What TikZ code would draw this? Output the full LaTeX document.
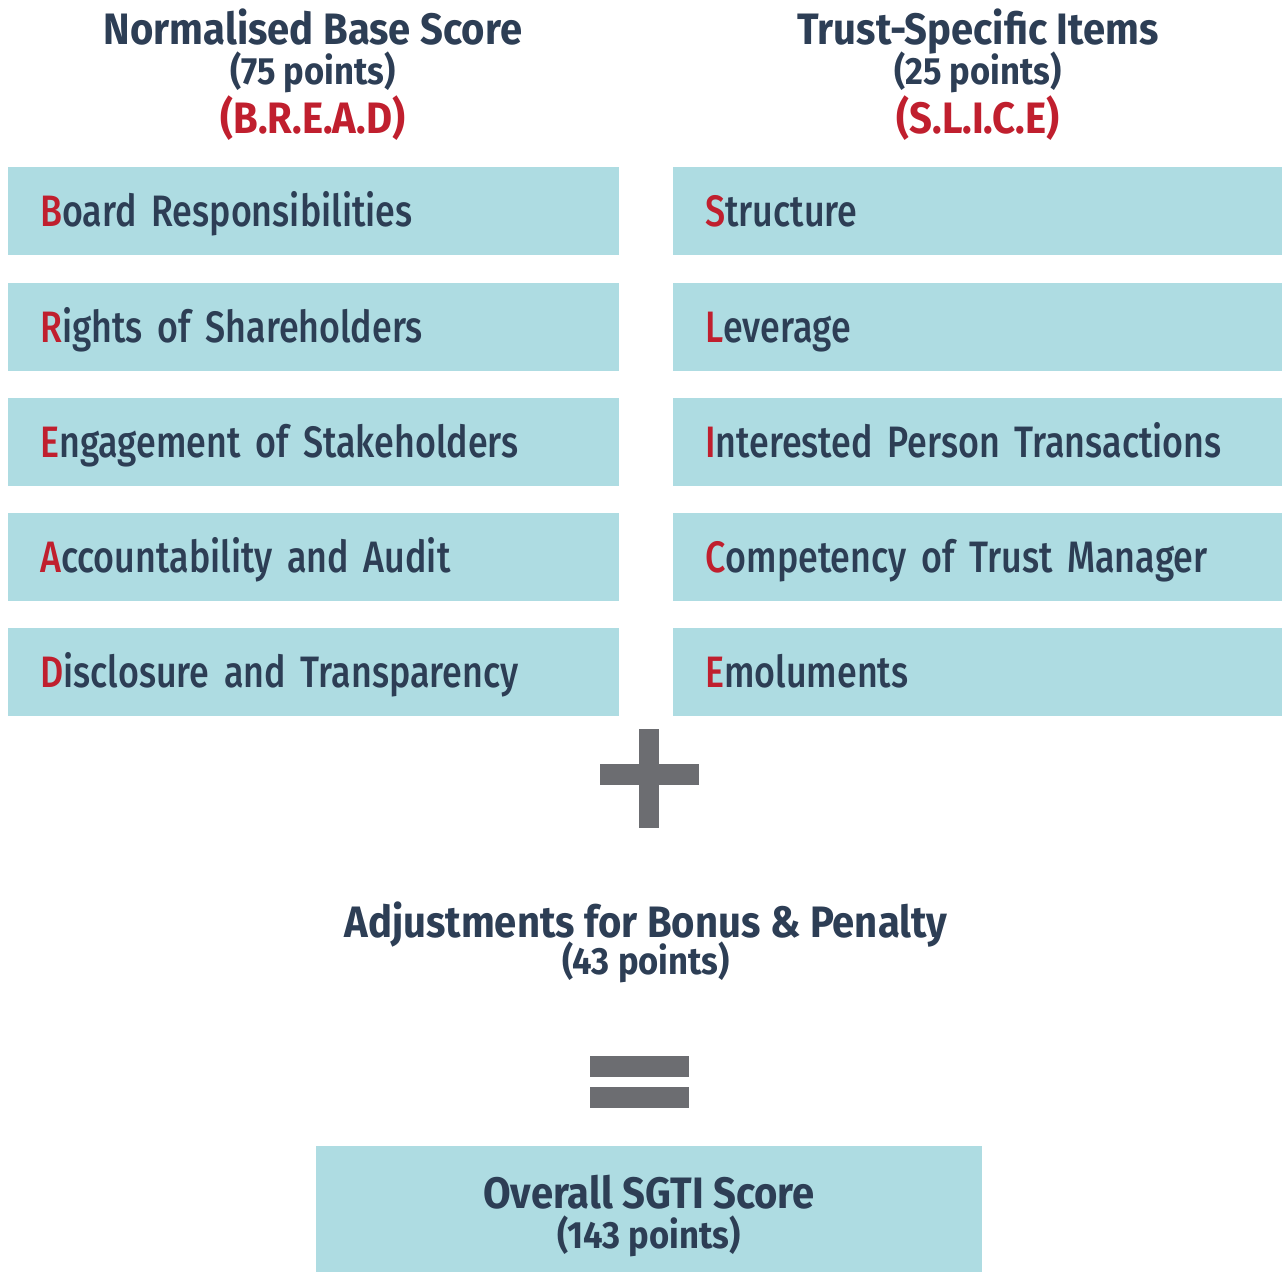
\documentclass[tikz,border=0pt]{standalone}
\usepackage{fontspec}
\setmainfont{Fira Sans}
\newfontfamily\headfont{Fira Sans}[FakeStretch=0.91]
\newfontfamily\boxfont{Fira Sans}[UprightFont=* Medium, FakeStretch=0.815]
\definecolor{navy}{HTML}{2D3E55}
\definecolor{accred}{HTML}{C01F2E}
\definecolor{lblue}{HTML}{AEDCE2}
\definecolor{sgray}{HTML}{6C6D71}
\begin{document}
\begin{tikzpicture}[x=1pt,y=-1pt,
  item/.style={fill=lblue, anchor=north west, minimum height=88pt, inner xsep=32pt, inner ysep=0pt,
    text width=547pt, text height=30pt, text depth=0pt, align=left, text=navy,
    font=\boxfont\fontsize{44}{48}\selectfont},
  head/.style={anchor=base, text=navy, align=center, font=\headfont\bfseries\fontsize{44}{48}\selectfont},
  sub/.style={anchor=base, text=navy, align=center, font=\headfont\bfseries\fontsize{38}{42}\selectfont},
  acro/.style={anchor=base, text=accred, align=center, font=\headfont\bfseries\fontsize{44}{48}\selectfont},
  bar/.style={fill=sgray, draw=none}
]
\useasboundingbox (0,0) rectangle (1282,1272);
% headings
\node[head] (lh) at (313,44) {Normalised Base Score};
\node[sub] (lp) at (313,84) {(75 points)};
\node[acro] (la) at (313,133) {(B.R.E.A.D)};
\node[head] (rh) at (978,44) {Trust-Specific Items};
\node[sub] (rp) at (978,84) {(25 points)};
\node[acro] (ra) at (978,133) {(S.L.I.C.E)};
% left column
\node[item] (b) at (8,167) {\textcolor{accred}{B}oard Responsibilities};
\node[item] (r) at (8,283) {\textcolor{accred}{R}ights of Shareholders};
\node[item] (e) at (8,398) {\textcolor{accred}{E}ngagement of Stakeholders};
\node[item] (a) at (8,513) {\textcolor{accred}{A}ccountability and Audit};
\node[item] (d) at (8,628) {\textcolor{accred}{D}isclosure and Transparency};
% right column
\node[item] (s) at (673,167) {\textcolor{accred}{S}tructure};
\node[item] (l) at (673,283) {\textcolor{accred}{L}everage};
\node[item] (i) at (673,398) {\textcolor{accred}{I}nterested Person Transactions};
\node[item] (c) at (673,513) {\textcolor{accred}{C}ompetency of Trust Manager};
\node[item] (em) at (673,628) {\textcolor{accred}{E}moluments};
% plus
\fill[bar] (639,729) rectangle (659,828);
\fill[bar] (600,764) rectangle (699,785);
% adjustments
\node[head] (adj) at (646,937) {Adjustments for Bonus \& Penalty};
\node[sub] (adjp) at (646,974) {(43 points)};
% equals
\fill[bar] (590,1056) rectangle (689,1077);
\fill[bar] (590,1087) rectangle (689,1108);
% overall
\fill[lblue] (316,1146) rectangle (982,1272);
\node[head] (ov) at (649,1208) {Overall SGTI Score};
\node[sub] (ovp) at (649,1248) {(143 points)};
\end{tikzpicture}
\end{document}
